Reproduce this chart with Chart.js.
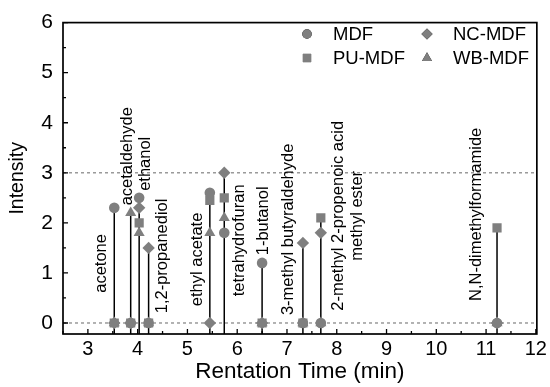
<!DOCTYPE html>
<html>
<head>
<meta charset="utf-8">
<script src="https://cdn.jsdelivr.net/npm/chart.js@4.4.1/dist/chart.umd.min.js"></script>
<style>
  html, body { margin: 0; padding: 0; background: #fff; }
  #wrap { width: 550px; height: 387px; }
</style>
</head>
<body>
<div id="wrap"><canvas id="chart"></canvas></div>
<script>
// retention time (min) of each compound
const compounds = ["acetone", "acetaldehyde", "ethanol", "1,2-propanediol", "ethyl acetate",
  "tetrahydrofuran", "1-butanol", "3-methyl butyraldehyde",
  "2-methyl 2-propenoic acid methyl ester", "N,N-dimethylformamide"];
const retTimes = [3.53, 3.86, 4.03, 4.22, 5.45, 5.74, 6.5, 7.32, 7.68, 11.22];

// intensity per board type
const mdf   = [2.3, 0, 2.5, 0, 2.6, 1.8, 1.2, 0, 0, 0];
const puMdf = [0, 0, 2.0, 0, 2.45, 2.5, 0, 0, 2.1, 1.9];
const ncMdf = [0, 0, 2.3, 1.5, 0, 3.0, 0, 1.6, 1.8, 0];
const wbMdf = [0, 2.2, 1.8, 0, 1.8, 2.1, 0, 0, 0, 0];

const xTicks = [3, 4, 5, 6, 7, 8, 9, 10, 11, 12];
const yTicks = [0, 1, 2, 3, 4, 5, 6];
const refLines = [0, 3];

// compound labels (lines of text) and where their centre sits, in data units
const labelLines = [["acetone"], ["acetaldehyde"], ["ethanol"], ["1,2-propanediol"], ["ethyl acetate"],
  ["tetrahydrofuran"], ["1-butanol"], ["3-methyl butyraldehyde"],
  ["2-methyl 2-propenoic acid", "methyl ester"], ["N,N-dimethylformamide"]];
const labelX = [3.27, 3.79, 4.15, 4.5, 5.2, 6.04, 6.52, 7.03, 8.23, 10.8];
const labelY = [1.19, 3.33, 3.18, 1.34, 1.27, 1.65, 2.04, 1.87, 2.14, 2.17];

const X_MIN = 2.5, X_MAX = 12.02, Y_MIN = -0.22, Y_MAX = 6;
const FONT = "'Liberation Sans', Arial, sans-serif";
const grey = "#7f7f7f";

Chart.defaults.font.family = FONT;
Chart.defaults.color = "#000";

const series = [
  { label: "MDF", vals: mdf, style: "circle", r: 5.3 },
  { label: "PU-MDF", vals: puMdf, style: "rect", r: 6.5 },
  { label: "NC-MDF", vals: ncMdf, style: "rectRot", r: 6.2 },
  { label: "WB-MDF", vals: wbMdf, style: "triangle", r: 6.4 }
];

const markerSets = series.map(s => ({
  type: "scatter",
  label: s.label,
  data: retTimes.map((x, i) => ({ x, y: s.vals[i] })),
  pointStyle: s.style,
  pointRadius: s.r,
  pointBackgroundColor: grey,
  pointBorderColor: grey,
  pointBorderWidth: 0,
  showLine: false
}));

// vertical stems from the axis up to the highest point of each compound
const stemData = [];
retTimes.forEach((x, i) => {
  const top = Math.max(mdf[i], puMdf[i], ncMdf[i], wbMdf[i]);
  stemData.push({ x, y: Y_MIN }, { x, y: top }, { x, y: null });
});
const stemSet = {
  type: "line", label: "stems", data: stemData,
  borderColor: "#000", borderWidth: 1.5, pointRadius: 0, spanGaps: false
};

const refSets = refLines.map(v => ({
  type: "line", label: "ref" + v,
  data: [{ x: X_MIN, y: v }, { x: X_MAX, y: v }],
  borderColor: "#8a8a8a", borderWidth: 1.3, borderDash: [3, 3], pointRadius: 0
}));

const framePlugin = {
  id: "frame",
  afterDatasetsDraw(chart) {
    const { ctx, chartArea: a, scales: { x, y } } = chart;
    ctx.save();
    ctx.strokeStyle = "#000";
    ctx.lineWidth = 1.7;
    ctx.strokeRect(a.left, a.top, a.right - a.left, a.bottom - a.top);
    ctx.lineWidth = 1.3;
    ctx.beginPath();
    xTicks.forEach(v => {
      const px = x.getPixelForValue(v);
      ctx.moveTo(px, a.bottom); ctx.lineTo(px, a.bottom - 5);
      const m = x.getPixelForValue(v - 0.5);
      ctx.moveTo(m, a.bottom); ctx.lineTo(m, a.bottom - 3);
    });
    yTicks.forEach(v => {
      const py = y.getPixelForValue(v);
      ctx.moveTo(a.left, py); ctx.lineTo(a.left + 5, py);
      if (v < Y_MAX) {
        const m = y.getPixelForValue(v + 0.5);
        ctx.moveTo(a.left, m); ctx.lineTo(a.left + 3, m);
      }
    });
    ctx.stroke();

    // compound names, rotated
    ctx.fillStyle = "#000";
    ctx.font = "16.5px " + FONT;
    ctx.textAlign = "center";
    ctx.textBaseline = "middle";
    const lh = 19;
    labelLines.forEach((lines, i) => {
      const px = x.getPixelForValue(labelX[i]);
      const py = y.getPixelForValue(labelY[i]);
      ctx.save();
      ctx.translate(px, py);
      ctx.rotate(-Math.PI / 2);
      lines.forEach((t, j) => ctx.fillText(t, 0, (j - (lines.length - 1) / 2) * lh));
      ctx.restore();
    });

    // legend, two columns
    const cols = [307, 427], rows = [34, 58];
    const order = [0, 2, 1, 3];
    ctx.font = "18.5px " + FONT;
    ctx.textAlign = "left";
    order.forEach((si, k) => {
      const s = series[si];
      const cx = cols[k % 2], cy = rows[Math.floor(k / 2)];
      Chart.helpers.drawPoint(ctx, {
        pointStyle: s.style, radius: s.r * 0.9, borderWidth: 0, rotation: 0
      }, cx, cy);
      ctx.fillStyle = grey;
      ctx.fill();
      ctx.fillStyle = "#000";
      ctx.fillText(s.label, cx + 26, cy + 1);
    });
    ctx.restore();
  }
};

new Chart(document.getElementById("chart"), {
  type: "scatter",
  data: { datasets: [...markerSets, stemSet, ...refSets] },
  options: {
    responsive: true,
    maintainAspectRatio: false,
    animation: false,
    layout: { padding: { top: 22, right: 13, left: 0, bottom: 0 } },
    plugins: { legend: { display: false }, tooltip: { enabled: false } },
    scales: {
      x: {
        type: "linear", min: X_MIN, max: X_MAX,
        afterBuildTicks: s => { s.ticks = xTicks.map(v => ({ value: v })); },
        afterFit: s => { s.height = 53; },
        grid: { display: false, drawTicks: false },
        border: { display: false },
        ticks: { font: { size: 20 }, padding: 3, maxRotation: 0 },
        title: { display: true, text: "Rentation Time (min)", font: { size: 22.5 }, padding: { top: 0, bottom: 2 } }
      },
      y: {
        type: "linear", min: Y_MIN, max: Y_MAX,
        afterBuildTicks: s => { s.ticks = yTicks.map(v => ({ value: v })); },
        afterFit: s => { s.width = 63; },
        grid: { display: false, drawTicks: false },
        border: { display: false },
        ticks: { font: { size: 21 }, padding: 10 },
        title: { display: true, text: "Intensity", font: { size: 19.5 }, padding: { top: 6, bottom: 0 } }
      }
    }
  },
  plugins: [framePlugin]
});
</script>
</body>
</html>
